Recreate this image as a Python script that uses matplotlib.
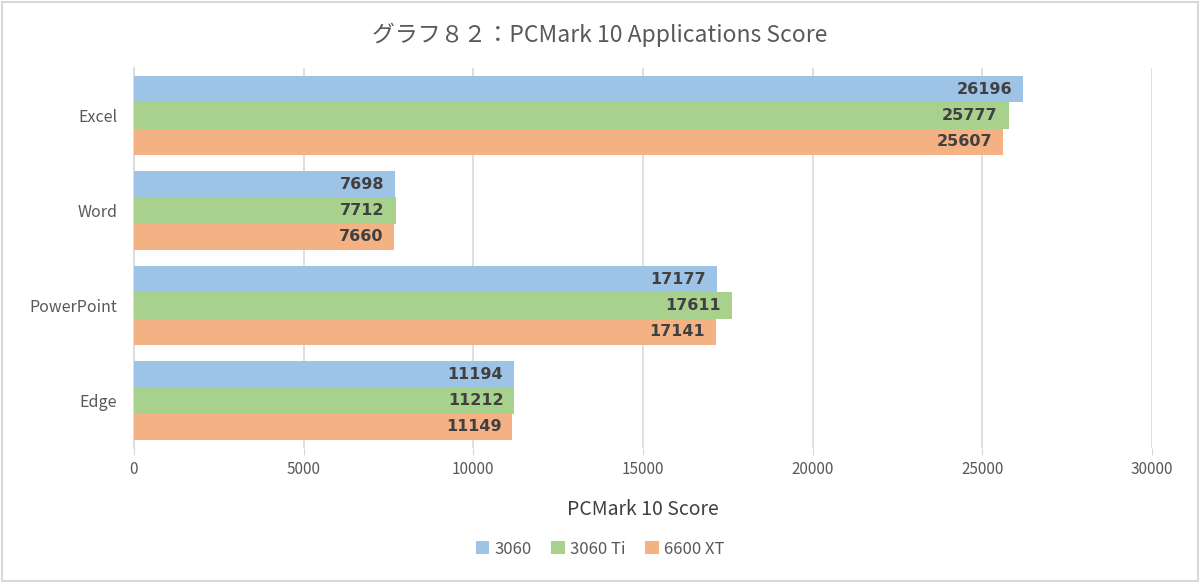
import matplotlib
matplotlib.use("Agg")
import matplotlib.pyplot as plt
import numpy as np
from matplotlib.patches import Rectangle

plt.rcParams['font.family'] = ['Noto Sans CJK JP', 'DejaVu Sans']

categories = ["Excel", "Word", "PowerPoint", "Edge"]
series_names = ["3060", "3060 Ti", "6600 XT"]
vals_3060 = [26196, 7698, 17177, 11194]
vals_3060ti = [25777, 7712, 17611, 11212]
vals_6600xt = [25607, 7660, 17141, 11149]
colors = ["#9DC3E6", "#A9D18E", "#F4B183"]
xticks = [0, 5000, 10000, 15000, 20000, 25000, 30000]

fig = plt.figure(figsize=(12, 5.83), dpi=100)
ax = fig.add_axes([134/1200, 1-448/583, (1152-134)/1200, 380/583])

h = 0.275
y = np.arange(len(categories))
for k, (vals, c, name) in enumerate(zip([vals_3060, vals_3060ti, vals_6600xt], colors, series_names)):
    pos = y + (k - 1) * h
    bars = ax.barh(pos, vals, height=h, color=c, label=name, zorder=3)
    for b, v in zip(bars, vals):
        ax.text(v - 320, b.get_y() + b.get_height()/2, f"{v}", ha="right", va="center",
                fontsize=11.5, fontweight="bold", color="#404040", zorder=4,
                family="DejaVu Sans")

ax.set_ylim(len(categories) - 0.5, -0.5)
ax.set_xlim(0, 30000)
ax.set_xticks(xticks)
ax.set_xticklabels([str(t) for t in xticks], fontsize=11, color="#595959")
ax.set_yticks(y)
ax.set_yticklabels(categories, fontsize=11.5, color="#595959")
for lbl in ax.get_yticklabels():
    lbl.set_y(lbl.get_position()[1])
ax.tick_params(axis="y", length=0, pad=12)
ax.tick_params(axis="x", length=5, color="#D9D9D9", pad=4)
ax.grid(axis="x", color="#D9D9D9", linewidth=1.2, zorder=0)
for s in ["top", "right", "bottom"]:
    ax.spines[s].set_visible(False)
ax.spines["left"].set_color("#D9D9D9")
ax.spines["left"].set_linewidth(1.2)

ax.set_xlabel("PCMark 10 Score", fontsize=14, color="#404040", labelpad=15.5)
fig.text(0.5, 1-35/583, "グラフ８２：PCMark 10 Applications Score", ha="center", va="center",
         fontsize=16.5, color="#595959")

leg = fig.legend(loc="center", bbox_to_anchor=(0.5, 1-549/583), ncol=3, frameon=False,
                 fontsize=12, handlelength=0.8, handleheight=0.8, handletextpad=0.3,
                 columnspacing=1.2, labelcolor="#595959")

fig.patches.append(Rectangle((0.002, 0.003), 0.996, 0.994, transform=fig.transFigure,
                             fill=False, edgecolor="#D9D9D9", linewidth=1.5))

fig.savefig("out.png", dpi=100, facecolor="white")
